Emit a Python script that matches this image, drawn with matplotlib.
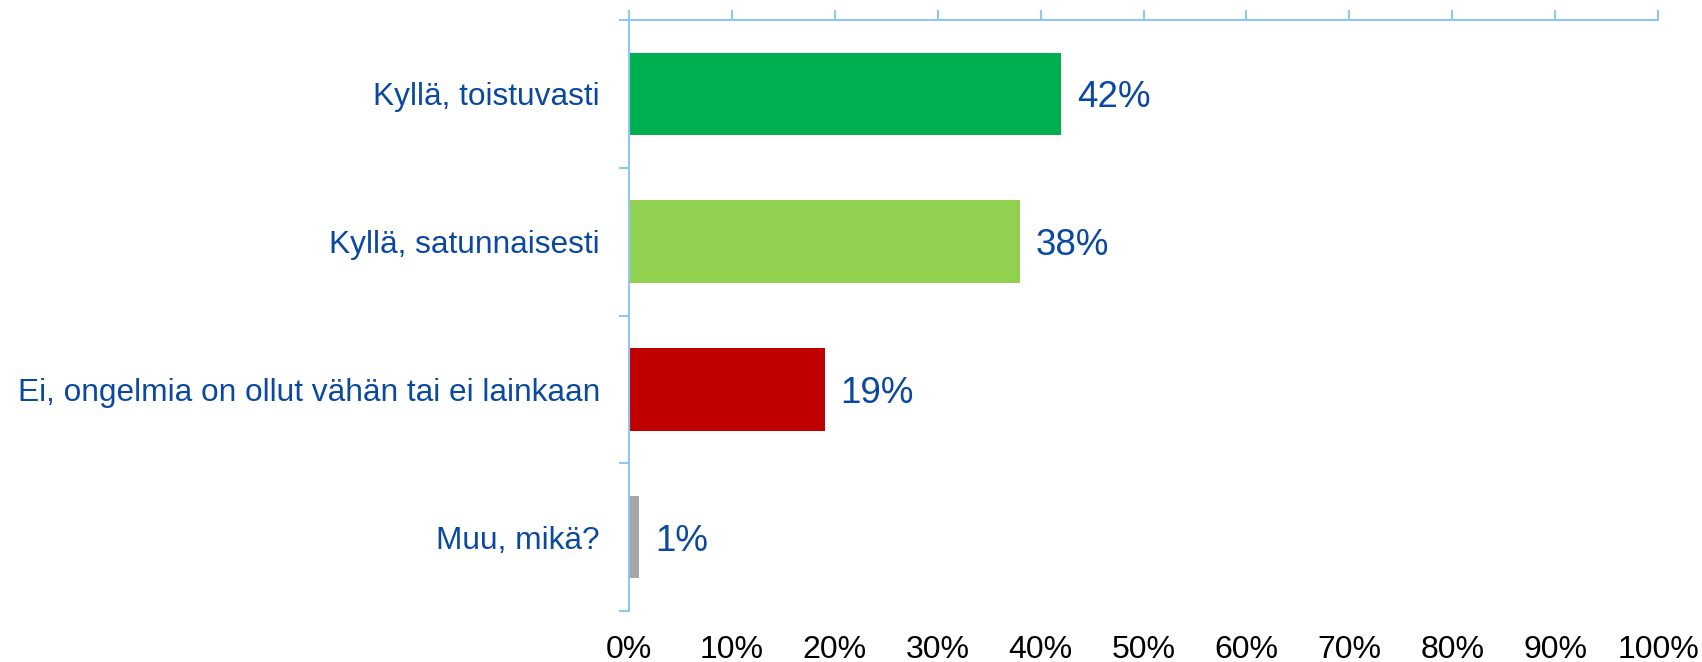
import numpy as np
import matplotlib
matplotlib.use("Agg")
import matplotlib.pyplot as plt

# data
categories = ["Kyllä, toistuvasti", "Kyllä, satunnaisesti",
              "Ei, ongelmia on ollut vähän tai ei lainkaan", "Muu, mikä?"]
values = [42, 38, 19, 1]
bar_colors = ["#00B050", "#92D050", "#C00000", "#A6A6A6"]
xticks = list(range(0, 101, 10))
xtick_labels = [f"{t}%" for t in xticks]

plt.rcParams['font.family'] = ['Liberation Sans', 'DejaVu Sans']
text_blue = "#0B48A0"
axis_blue = "#8EC8F0"

fig = plt.figure(figsize=(17.02, 6.62), dpi=100)
ax = fig.add_axes([629 / 1702, 1 - 611 / 662, 1029 / 1702, 591 / 662])

y = np.arange(len(categories))
ax.barh(y, values, height=0.56, color=bar_colors)
ax.set_ylim(len(categories) - 0.5, -0.5)
ax.set_xlim(0, 100)

for yi, v in zip(y, values):
    ax.annotate(f"{v}%", (v, yi), xytext=(16, 0), textcoords="offset pixels",
                ha="left", va="center_baseline", fontsize=26.5, color=text_blue)

# y ticks at category boundaries, labels in the middle
ax.set_yticks(np.arange(-0.5, len(categories), 1))
ax.set_yticklabels([])
ax.set_yticks(y, minor=True)
ax.set_yticklabels(categories, minor=True, fontsize=22.8, color=text_blue)
ax.tick_params(axis="y", which="major", length=7, width=1.5, color=axis_blue, direction="out")
ax.tick_params(axis="y", which="minor", length=0, pad=21)

ax.set_xticks(xticks)
ax.set_xticklabels(xtick_labels, fontsize=23)
ax.tick_params(axis="x", top=True, bottom=False, labeltop=False, labelbottom=True,
               length=7, width=1.5, color=axis_blue, pad=10)

for side in ["right", "bottom"]:
    ax.spines[side].set_visible(False)
for side in ["left", "top"]:
    ax.spines[side].set_color(axis_blue)
    ax.spines[side].set_linewidth(1.5)

fig.savefig("out.png", dpi=100)
